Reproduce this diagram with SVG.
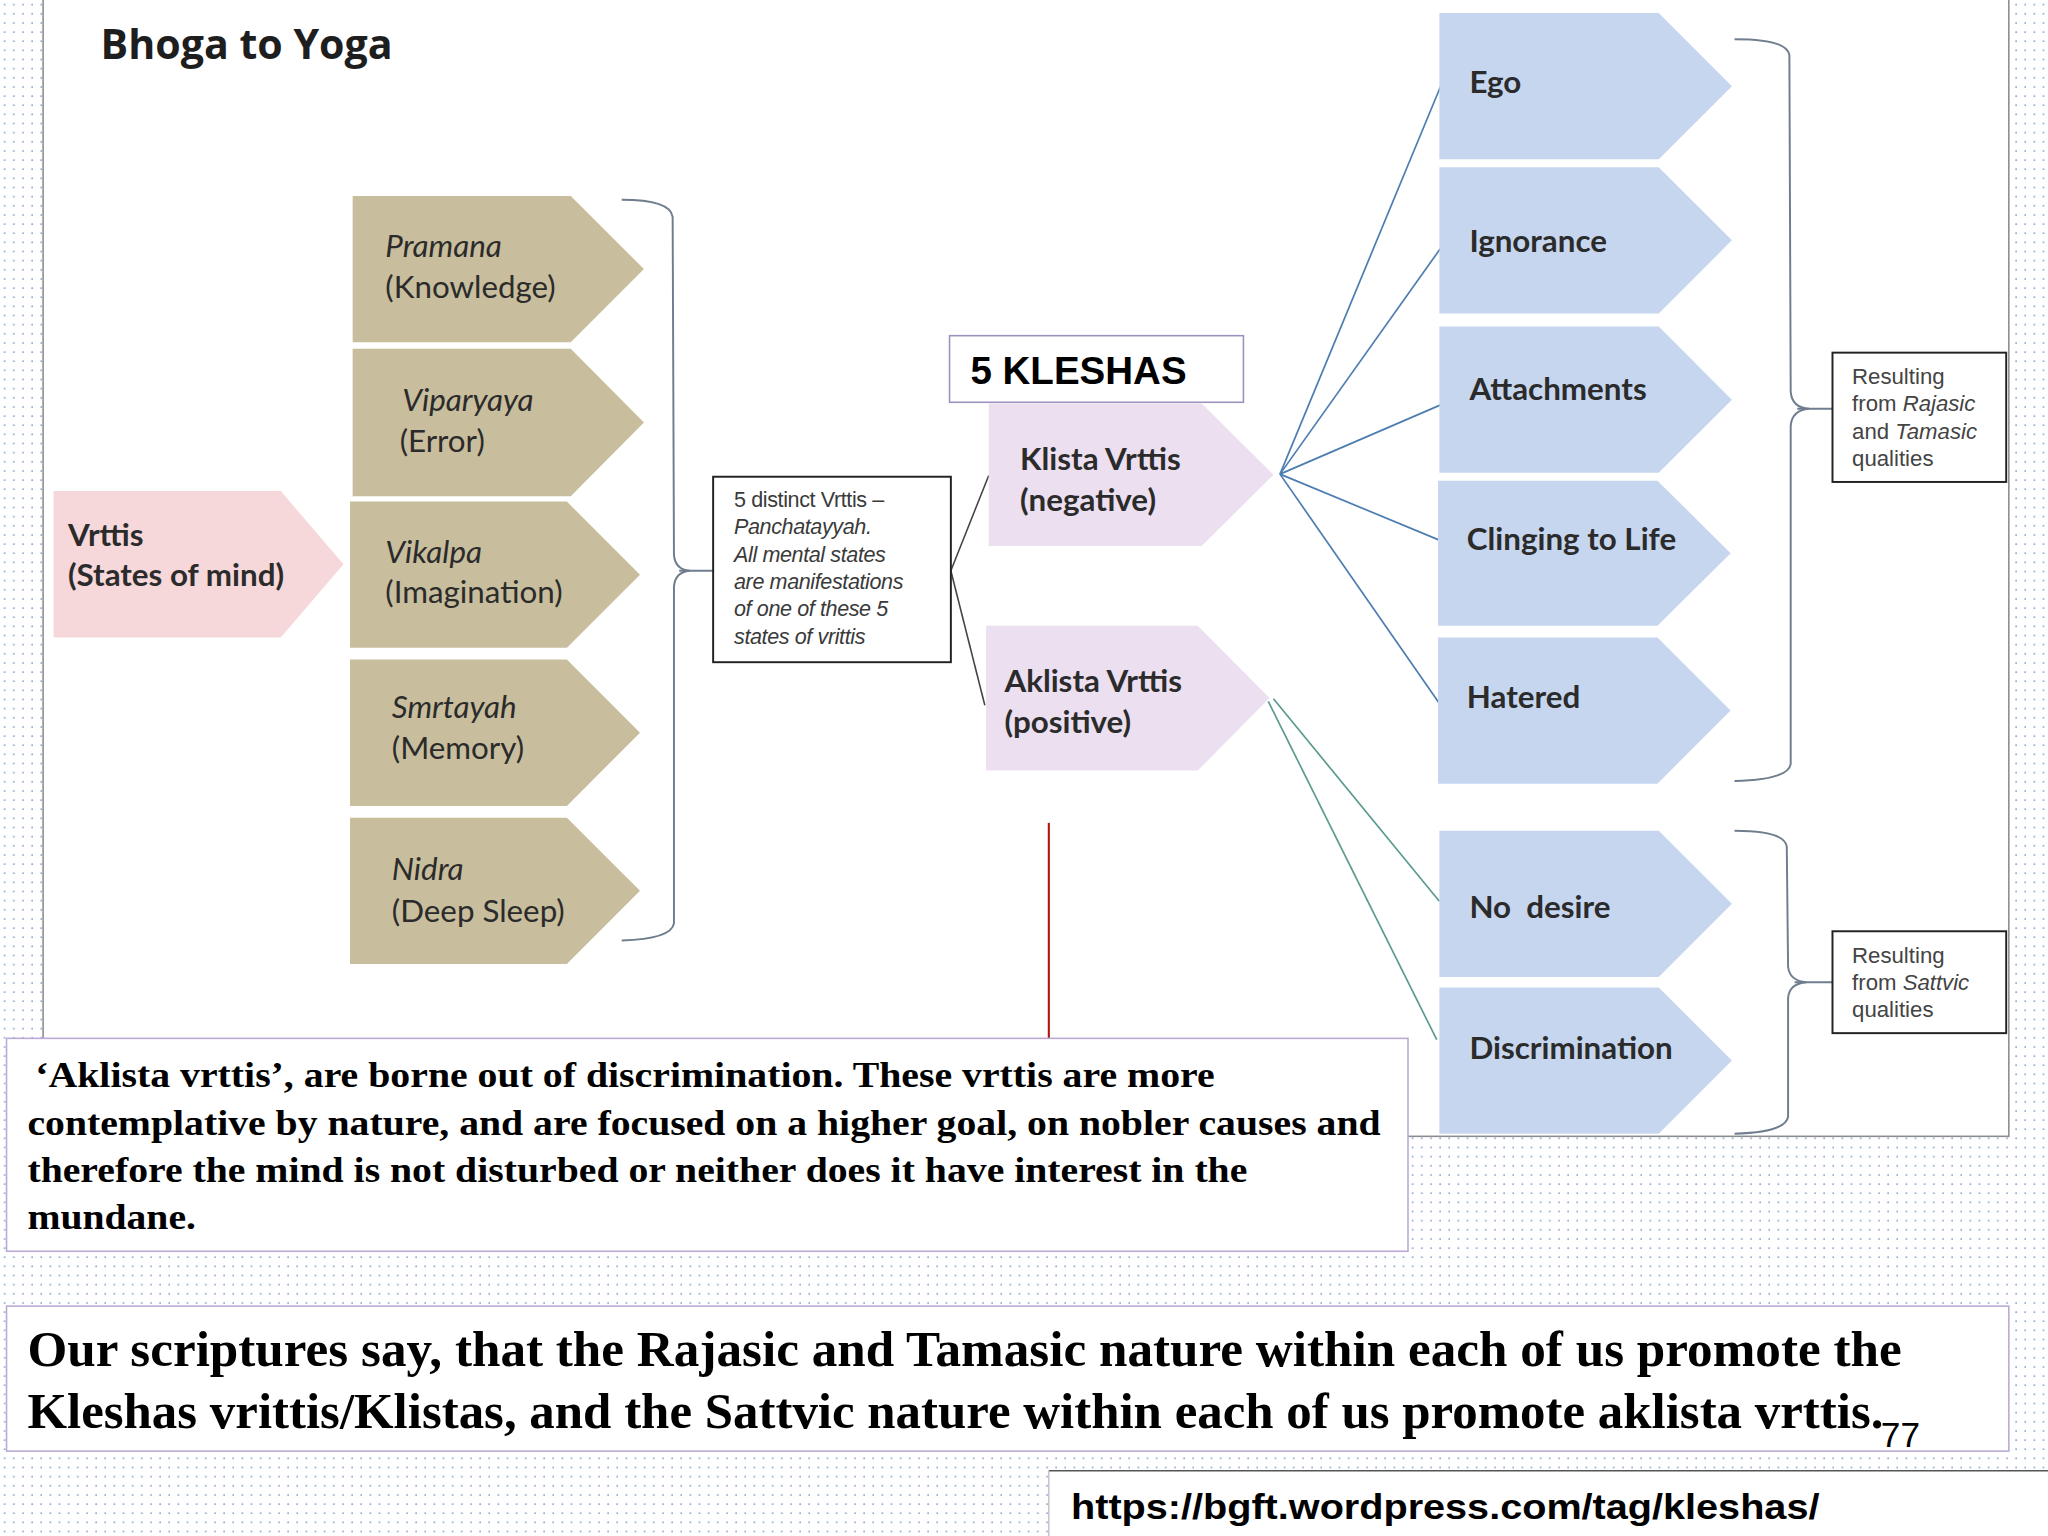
<svg xmlns="http://www.w3.org/2000/svg" width="2048" height="1536" viewBox="0 0 2048 1536">
  <defs>
    <pattern id="dots" x="0" y="0" width="7" height="7" patternUnits="userSpaceOnUse">
      <rect x="3" y="3" width="1.2" height="1.2" fill="#7f9fd6"/>
    </pattern>
    <style>
      .lbl { font-family: Lato, "Noto Sans", "Liberation Sans", sans-serif; font-size: 24px; fill: #2b2b2b; }
      .b { font-weight: bold; }
      .it { font-style: italic; }
      .tan { fill: #c8bd9c; }
      .pink { fill: #f6d7da; }
      .lav { fill: #ebdff0; }
      .blue { fill: #c6d6ef; }
      .small { font-family: "Liberation Sans", Arial, sans-serif; font-size: 16.5px; fill: #3a3a3a; letter-spacing: -0.3px; }
      .res { font-family: "Liberation Sans", Arial, sans-serif; font-size: 17px; fill: #444; }
      .box { fill: #ffffff; stroke: #222; stroke-width: 1.5; }
      .pbox { fill: #ffffff; stroke: #b9a9d4; stroke-width: 1.2; }
      .serif { font-family: "Liberation Serif", "Times New Roman", serif; font-weight: bold; fill: #000; }
      .brace { fill: none; stroke: #6f7d8f; stroke-width: 1.5; }
      .cblue { stroke: #4c7db0; stroke-width: 1.3; fill: none; }
      .cgreen { stroke: #5b9a8e; stroke-width: 1.3; fill: none; }
      .cgray { stroke: #444; stroke-width: 1.2; fill: none; }
    </style>
  </defs>
  <g transform="scale(1.306122)">
    <!-- background -->
    <rect x="0" y="0" width="1568" height="1176" fill="#ffffff"/>
    <rect x="0" y="0" width="1568" height="1176" fill="url(#dots)"/>
    <!-- slide area -->
    <rect x="33" y="-2" width="1505" height="872" fill="#ffffff" stroke="#8c8c8c" stroke-width="1.2"/>

    <g id="title">
      <text x="77" y="45" font-family="'Open Sans', Lato, 'Liberation Sans', sans-serif" font-size="31.5" font-weight="bold" fill="#1e1e1e">Bhoga to Yoga</text>
    </g>

    <!-- connectors -->
    <g id="connectors">
      <path class="brace" d="M476,153 Q513,153 515,166 L516,425 Q517,436 528,437 Q517,438 516,449 L516,707 Q514,719 476,720"/>
      <line class="brace" x1="520" y1="437" x2="546" y2="437"/>
      <line class="cgray" x1="728" y1="437" x2="757" y2="364"/>
      <line class="cgray" x1="728" y1="437" x2="754" y2="540"/>
      <line class="cblue" x1="980" y1="363" x2="1103" y2="66"/>
      <line class="cblue" x1="980" y1="363" x2="1103" y2="190"/>
      <line class="cblue" x1="980" y1="363" x2="1103" y2="310"/>
      <line class="cblue" x1="980" y1="363" x2="1108" y2="416"/>
      <line class="cblue" x1="980" y1="363" x2="1103" y2="540"/>
      <line class="cgreen" x1="975" y1="535" x2="1102" y2="690"/>
      <line class="cgreen" x1="971" y1="537" x2="1100" y2="796"/>
      <path class="brace" d="M1328,30 Q1368,30 1370,42 L1371,300 Q1372,312 1385,313 Q1372,314 1371,326 L1371,585 Q1369,597 1328,598"/>
      <line class="brace" x1="1376" y1="313" x2="1403" y2="313"/>
      <path class="brace" d="M1328,636 Q1366,636 1368,648 L1369,740 Q1370,751 1383,752 Q1370,753 1369,764 L1369,855 Q1367,867 1328,868"/>
      <line class="brace" x1="1374" y1="752" x2="1403" y2="752"/>
      <line x1="803" y1="630" x2="803" y2="796" stroke="#b01212" stroke-width="1.6"/>
    </g>

    <g id="vrttis">
      <path class="pink" d="M41,376 H215 L263,432 L215,488 H41 Z"/>
      <text class="lbl b" x="52" y="418">Vrttis</text>
      <text class="lbl b" x="52" y="449">(States of mind)</text>
    </g>

    <g id="pramana">
      <path class="tan" d="M270,150 H437 L493,206 L437,262 H270 Z"/>
      <text class="lbl it" x="295" y="197">Pramana</text>
      <text class="lbl" x="295" y="228">(Knowledge)</text>
    </g>
    <g id="viparyaya">
      <path class="tan" d="M270,267 H437 L493,323.5 L437,380 H270 Z"/>
      <text class="lbl it" x="308" y="315">Viparyaya</text>
      <text class="lbl" x="306" y="346">(Error)</text>
    </g>
    <g id="vikalpa">
      <path class="tan" d="M268,384 H434 L490,440 L434,496 H268 Z"/>
      <text class="lbl it" x="295" y="431">Vikalpa</text>
      <text class="lbl" x="295" y="462">(Imagination)</text>
    </g>
    <g id="smrtayah">
      <path class="tan" d="M268,505 H434 L490,561 L434,617 H268 Z"/>
      <text class="lbl it" x="300" y="550">Smrtayah</text>
      <text class="lbl" x="300" y="581">(Memory)</text>
    </g>
    <g id="nidra">
      <path class="tan" d="M268,626 H434 L490,682 L434,738 H268 Z"/>
      <text class="lbl it" x="300" y="674">Nidra</text>
      <text class="lbl" x="300" y="706">(Deep Sleep)</text>
    </g>

    <g id="distinct">
      <rect class="box" x="546" y="365" width="182" height="142"/>
      <text class="small" x="562" y="388">5 distinct Vrttis –</text>
      <text class="small it" x="562" y="409">Panchatayyah.</text>
      <text class="small it" x="562" y="430">All mental states</text>
      <text class="small it" x="562" y="451">are manifestations</text>
      <text class="small it" x="562" y="472">of one of these 5</text>
      <text class="small it" x="562" y="493">states of vrittis</text>
    </g>

    <g id="kleshas">
      <rect x="727" y="257" width="225" height="51" fill="#ffffff" stroke="#9d91bd" stroke-width="1.2"/>
      <text x="743" y="294" font-family="'Liberation Sans', Arial, sans-serif" font-size="29.5" font-weight="bold" fill="#000">5 KLESHAS</text>
    </g>

    <g id="klista">
      <path class="lav" d="M757,309 H920 L975,363.5 L920,418 H757 Z"/>
      <text class="lbl b" x="781" y="360">Klista Vrttis</text>
      <text class="lbl b" x="781" y="391">(negative)</text>
    </g>
    <g id="aklista">
      <path class="lav" d="M755,479 H917 L972,534.5 L917,590 H755 Z"/>
      <text class="lbl b" x="769" y="530">Aklista Vrttis</text>
      <text class="lbl b" x="769" y="561">(positive)</text>
    </g>

    <g id="ego">
      <path class="blue" d="M1102,10 H1270 L1326,66 L1270,122 H1102 Z"/>
      <text class="lbl b" x="1125" y="71">Ego</text>
    </g>
    <g id="ignorance">
      <path class="blue" d="M1102,128 H1270 L1326,184 L1270,240 H1102 Z"/>
      <text class="lbl b" x="1125" y="193">Ignorance</text>
    </g>
    <g id="attachments">
      <path class="blue" d="M1102,250 H1270 L1326,306 L1270,362 H1102 Z"/>
      <text class="lbl b" x="1125" y="306">Attachments</text>
    </g>
    <g id="clinging">
      <path class="blue" d="M1101,368 H1269 L1325,423.5 L1269,479 H1101 Z"/>
      <text class="lbl b" x="1123" y="421">Clinging to Life</text>
    </g>
    <g id="hatered">
      <path class="blue" d="M1101,488 H1269 L1325,544 L1269,600 H1101 Z"/>
      <text class="lbl b" x="1123" y="542">Hatered</text>
    </g>
    <g id="nodesire">
      <path class="blue" d="M1102,636 H1270 L1326,692 L1270,748 H1102 Z"/>
      <text class="lbl b" x="1125" y="703" xml:space="preserve">No  desire</text>
    </g>
    <g id="discrimination">
      <path class="blue" d="M1102,756 H1270 L1326,812 L1270,868 H1102 Z"/>
      <text class="lbl b" x="1125" y="811">Discrimination</text>
    </g>

    <g id="rajasic">
      <rect class="box" x="1403" y="270" width="133" height="99"/>
      <text class="res" x="1418" y="294">Resulting</text>
      <text class="res" x="1418" y="315">from <tspan class="it">Rajasic</tspan></text>
      <text class="res" x="1418" y="336">and <tspan class="it">Tamasic</tspan></text>
      <text class="res" x="1418" y="357">qualities</text>
    </g>
    <g id="sattvic">
      <rect class="box" x="1403" y="713" width="133" height="78"/>
      <text class="res" x="1418" y="737">Resulting</text>
      <text class="res" x="1418" y="758">from <tspan class="it">Sattvic</tspan></text>
      <text class="res" x="1418" y="779">qualities</text>
    </g>

    <g id="paragraph">
      <rect class="pbox" x="5" y="795" width="1073" height="163"/>
      <text class="serif" x="27" y="832" font-size="28" textLength="903" lengthAdjust="spacingAndGlyphs">‘Aklista vrttis’, are borne out of discrimination. These vrttis are more</text>
      <text class="serif" x="21" y="869" font-size="28" textLength="1036" lengthAdjust="spacingAndGlyphs">contemplative by nature, and are focused on a higher goal, on nobler causes and</text>
      <text class="serif" x="21" y="905" font-size="28" textLength="934" lengthAdjust="spacingAndGlyphs">therefore the mind is not disturbed or neither does it have interest in the</text>
      <text class="serif" x="21" y="941" font-size="28" textLength="129" lengthAdjust="spacingAndGlyphs">mundane.</text>
    </g>

    <g id="scriptures">
      <rect class="pbox" x="5" y="1000" width="1533" height="111"/>
      <text class="serif" x="21" y="1046" font-size="38" textLength="1435" lengthAdjust="spacingAndGlyphs">Our scriptures say, that the Rajasic and Tamasic nature within each of us promote the</text>
      <text class="serif" x="21" y="1093" font-size="38" textLength="1421" lengthAdjust="spacingAndGlyphs">Kleshas vrittis/Klistas, and the Sattvic nature within each of us promote aklista vrttis.</text>
      <text x="1440" y="1108" font-family="'Liberation Sans', Arial, sans-serif" font-size="27" fill="#000">77</text>
    </g>

    <g id="url">
      <rect x="803" y="1126" width="770" height="55" fill="#ffffff"/>
      <line x1="803" y1="1126" x2="1568" y2="1126" stroke="#555" stroke-width="1.2"/>
      <line x1="803" y1="1126" x2="803" y2="1176" stroke="#bbb" stroke-width="1"/>
      <text x="820" y="1163" font-family="'Liberation Sans', Arial, sans-serif" font-size="27" font-weight="bold" fill="#000" textLength="573" lengthAdjust="spacingAndGlyphs">https://bgft.wordpress.com/tag/kleshas/</text>
    </g>
  </g>
</svg>
